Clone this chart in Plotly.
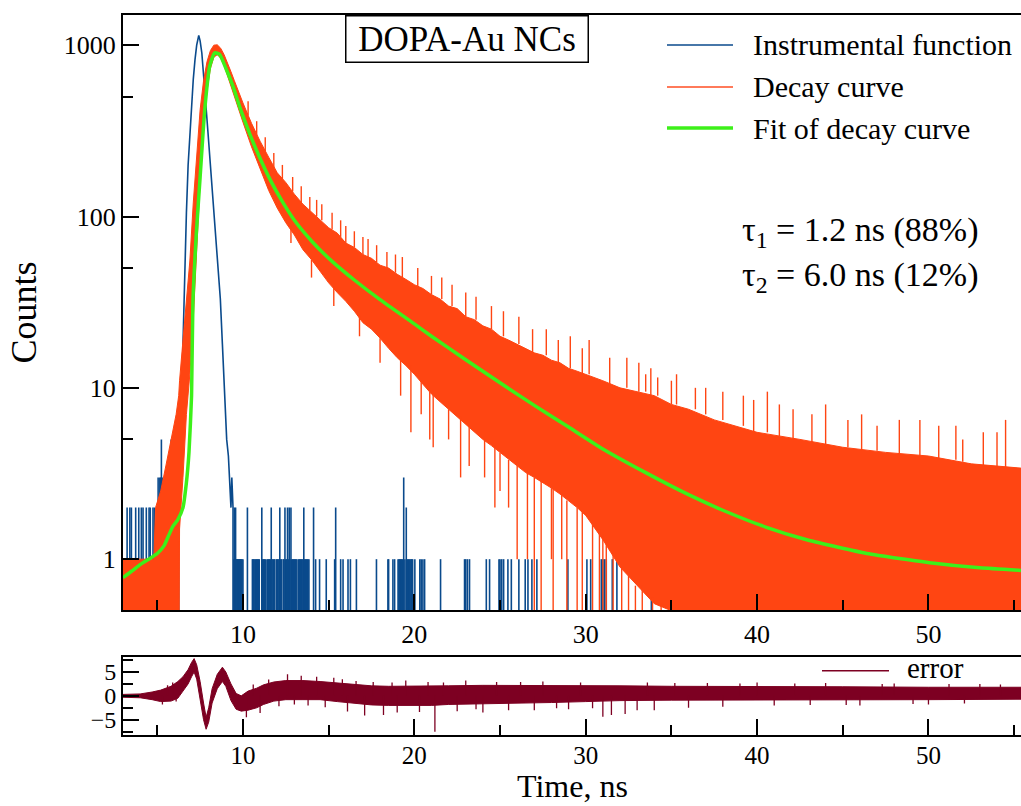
import plotly.graph_objects as go

# ---------------- data ----------------
# Instrument response function: main peak (time ns, counts)
irf_peak_t = [6.25, 6.3, 6.4, 6.5, 6.6, 6.7, 6.8, 6.9, 7.0, 7.1, 7.2, 7.3, 7.42, 7.5, 7.6, 7.67,
              7.8, 7.96, 8.1, 8.25, 8.4, 8.54, 8.68, 8.8, 8.93, 9.05, 9.15, 9.22, 9.3, 9.35, 9.42]
irf_peak_c = [2, 4, 7, 18, 51, 105, 200, 310, 460, 630, 820, 1000, 1140, 1060, 900, 754,
              500, 308, 200, 125, 75, 51, 33, 18, 8.5, 5, 4, 3, 2, 3, 2]
# isolated non-zero IRF channels (time ns, counts)
irf_spike_t = [3.24, 3.40, 3.49, 3.74, 3.92, 4.07, 4.17, 4.36, 4.52, 4.59, 4.75, 4.84, 5.05, 5.10, 5.15,
               5.20, 5.24, 5.30, 5.62, 5.75, 5.81, 5.87, 5.94, 6.05, 6.12,
               9.47, 9.50, 9.53, 9.57, 9.60, 9.63, 9.67, 9.70, 9.73, 9.77, 9.80, 9.83, 9.87, 9.90, 9.95, 10.00,
               10.26, 10.55, 10.60, 10.65, 10.70, 10.75, 10.80, 10.85, 10.90, 10.95,
               11.10, 11.15, 11.20, 11.25, 11.30, 11.40, 11.45, 11.50, 11.55, 11.60, 11.65, 11.70, 11.75,
               11.80, 11.85, 11.95, 12.00, 12.05, 12.10, 12.15, 12.20, 12.25, 12.35, 12.40, 12.45, 12.50,
               12.55, 12.60, 12.65, 12.70, 12.75, 12.80, 12.85, 12.90, 12.95, 13.00, 13.05, 13.10, 13.15,
               13.25, 13.30, 13.35, 13.40, 13.45, 13.50, 13.55, 13.60, 13.65, 13.70, 13.75, 13.80, 13.85,
               14.12, 14.24, 14.47, 14.86, 15.35, 15.41, 15.70, 15.84, 16.13, 16.27, 16.62, 17.79, 18.46,
               18.50, 18.75, 18.85, 19.05, 19.10, 19.15, 19.20, 19.25, 19.30, 19.38, 19.45, 19.53, 19.60,
               19.65, 19.70, 19.75, 19.80, 19.85, 19.90, 20.03, 20.32, 20.40, 20.50, 20.60, 21.53, 22.93,
               23.00, 23.10, 23.22, 24.20, 24.39, 24.94, 25.00, 25.10, 25.21, 25.46, 25.66, 26.10, 26.47,
               26.63, 26.86, 27.15, 28.96, 30.07, 30.29, 30.91, 31.00, 31.10, 31.20, 31.55, 31.82, 33.83,
               35.03, 35.77, 36.11, 36.94, 37.23, 37.27, 37.48, 37.52, 37.66, 37.77, 40.15, 40.25, 41.60,
               42.05, 42.58, 42.83, 43.35, 43.80, 52.30]
irf_spike_c = [2, 2, 2, 2, 2, 2, 2, 2, 2, 2, 2, 2, 3, 2, 3,
               3, 5, 3, 2, 2, 5, 2, 2, 3, 2,
               1, 2, 1, 2, 1, 1, 1, 1, 1, 1, 1, 1, 1, 1, 1, 1,
               2, 1, 1, 1, 1, 1, 1, 1, 1, 1,
               2, 1, 1, 1, 1, 1, 1, 1, 1, 1, 2, 1, 1,
               1, 1, 1, 1, 1, 1, 2, 1, 1, 1, 1, 2, 1,
               1, 2, 1, 2, 1, 2, 1, 1, 1, 1, 1, 1, 1,
               1, 1, 1, 1, 1, 1, 2, 1, 1, 1, 1, 1, 1,
               2, 1, 1, 1, 1, 2, 1, 1, 1, 1, 1, 1, 1,
               1, 1, 1, 1, 1, 1, 1, 1, 1, 3, 1, 2, 1,
               1, 1, 1, 1, 1, 1, 1, 1, 1, 1, 1, 1, 1,
               1, 1, 1, 1, 1, 1, 1, 1, 1, 1, 1, 1, 1,
               1, 1, 1, 1, 1, 1, 1, 1, 1, 1, 1, 1, 1,
               1, 1, 1, 1, 1, 1, 1, 1, 1, 1, 1, 1, 1,
               1, 1, 1, 1, 1, 1]

# Decay curve: band of the noisy counts (time ns, lower edge, upper edge)
decay_t = [3.0, 3.5, 3.9, 4.4, 4.8, 4.9, 5.2, 5.5, 5.8, 6.1, 6.25, 6.3, 6.5, 6.7, 6.9, 7.1, 7.3, 7.5,
           7.7, 7.9, 8.1, 8.3, 8.5, 8.7, 8.9, 9.1, 9.3, 9.5, 9.8, 10.0, 10.5, 11.0, 11.5, 12.0, 12.5,
           13.0, 13.5, 14.0, 14.5, 15.0, 15.5, 16.0, 16.5, 17.0, 17.5, 18.0, 18.5, 19.0, 19.5, 20.0,
           20.5, 21.0, 21.5, 22.0, 22.5, 23.0, 23.5, 24.0, 24.5, 25.0, 25.5, 26.0, 26.5, 27.0, 27.5,
           28.0, 28.5, 29.0, 29.5, 30.0, 31.0, 32.0, 33.0, 34.0, 35.0, 36.0, 37.5, 40.0, 42.5, 45.0,
           47.5, 50.0, 52.5, 55.4]
decay_low = [0.1, 0.1, 0.1, 0.1, 0.1, 0.1, 0.1, 0.1, 0.1, 0.1, 0.1, 1.5, 3.0, 7, 12, 25, 70, 160,
             330, 540, 730, 850, 880, 840, 760, 660, 580, 500, 410, 355, 255, 190, 142, 112, 92,
             78, 64, 56, 48, 41, 36, 32, 28, 24, 22, 19.5, 17, 15, 13.5, 12,
             10.5, 9.2, 8.3, 7.5, 6.8, 6.2, 5.6, 5.0, 4.6, 4.2, 3.8, 3.5, 3.2, 3.0, 2.8,
             2.6, 2.4, 2.2, 2.0, 1.8, 1.3, 0.9, 0.7, 0.55, 0.5, 0.1, 0.1, 0.1, 0.1, 0.1,
             0.1, 0.1, 0.1, 0.1]
decay_high = [1.0, 1.0, 1.0, 1.0, 1.0, 2.0, 2.5, 3.5, 5.0, 7.0, 9.0, 11, 19, 32, 55, 120, 240, 420,
              620, 800, 930, 1000, 1005, 960, 880, 790, 700, 620, 510, 460, 350, 275, 222, 180, 158,
              135, 118, 106, 95, 86, 80, 70, 66, 60, 57, 52, 50, 46, 43, 40,
              38, 35, 33, 30, 29, 26, 25, 23, 22, 20, 19, 18, 17, 16, 15.5,
              14.5, 14, 13, 12.5, 12, 11, 10, 9.5, 9, 8, 7.5, 6.5, 5.5, 5, 4.5,
              4.2, 4, 3.6, 3.4]
# single noisy channels poking out of the band (time ns, band edge, spike end)
decay_spike_t = [10.3, 10.8, 11.3, 11.8, 12.3, 12.9, 13.4, 13.9, 14.3, 14.6, 15.2, 15.7, 16.0, 16.5,
                 17.0, 17.3, 17.8, 18.4, 18.9, 19.3, 20.2, 21.0, 21.6, 22.2, 23.0, 23.6, 24.5, 25.2,
                 26.1, 26.9, 27.7, 28.4, 29.1, 29.8, 30.2, 31.4, 32.4, 33.1, 33.5, 33.8, 34.2, 35.0,
                 35.3, 36.4, 37.0, 38.0, 39.2, 39.8, 40.6, 41.3, 42.1, 43.2, 44.0, 45.3, 46.1, 47.0,
                 48.3, 49.5, 50.6, 51.6, 52.0, 53.2, 54.0, 54.5,
                 12.8, 14.0, 15.3, 16.8, 18.0, 19.2, 19.8, 20.4, 20.9, 21.1, 22.0, 22.7, 23.2, 24.1,
                 24.7, 25.0, 25.5, 26.0, 26.6, 27.0, 27.4, 28.0, 28.1, 28.6, 28.9, 29.5, 29.8, 30.4,
                 30.8, 31.0, 31.2, 31.6, 32.1, 32.5, 32.9, 33.3, 33.9, 34.4]
decay_spike_base = [390, 300, 240, 190, 165, 140, 120, 108, 100, 95, 84, 76, 70, 66,
                    60, 58, 54, 50, 47, 44, 39, 35, 33, 30, 26, 25, 22, 20,
                    18, 16, 15.5, 14, 13, 12, 12, 10.5, 10, 9.5, 9.5, 9, 9, 8,
                    8, 7.5, 7, 6.5, 6, 5.5, 5.5, 5.2, 5, 4.8, 4.5, 4.5, 4.3, 4.3,
                    4.1, 4, 3.9, 3.8, 3.7, 3.5, 3.5, 3.4,
                    88, 56, 39, 26, 19.5, 14.5, 13.5, 11, 9.5, 9.2, 7.5, 6.8, 6, 5,
                    4.6, 4.2, 3.8, 3.5, 3.2, 3, 2.9, 2.6, 2.6, 2.4, 2.2, 2.0, 1.9, 1.6,
                    1.5, 1.4, 1.3, 1.1, 0.9, 0.8, 0.7, 0.7, 0.6, 0.55]
decay_spike_end = [470, 360, 290, 235, 200, 170, 150, 130, 125, 118, 105, 95, 88, 82,
                   76, 74, 68, 62, 60, 58, 50, 45, 44, 40, 36, 34, 30, 28,
                   26, 22, 22, 19, 20, 17, 19, 15, 15, 14, 12, 13, 11.5, 11,
                   12, 10, 10, 9.5, 9, 8.5, 9.5, 8, 7.5, 7, 8, 6.5, 7, 6,
                   6.5, 6.5, 6, 6, 5, 5.5, 5.5, 6.5,
                   70, 44, 30, 20, 14, 9, 5.5, 7, 5, 4.5, 5, 3, 3.5, 3,
                   2, 2.5, 2, 1.0, 1, 0.05, 0.05, 1, 0.05, 1, 0.05, 0.05, 0.05, 0.05,
                   0.05, 0.05, 0.05, 0.05, 0.05, 0.05, 0.05, 0.05, 0.05, 0.05]

# Fit of decay curve (time ns, counts)
fit_t = [3.0, 3.5, 4.0, 4.5, 5.0, 5.4, 5.7, 5.9, 6.2, 6.5, 6.7, 6.85, 7.0, 7.08, 7.28, 7.5, 7.77,
         8.06, 8.35, 8.64, 9.03, 9.42, 9.81, 10.4, 10.95, 11.6, 12.3, 13.0, 14.0, 15.2, 16.5, 18.0,
         20.0, 21.0, 23.0, 25.0, 27.0, 29.0, 31.0, 33.5, 36.0, 38.0, 40.5, 43.0, 46.4, 50.2, 53.0, 55.4]
fit_c = [0.78, 0.85, 0.93, 1.0, 1.08, 1.2, 1.4, 1.55, 1.7, 2.0, 2.8, 4.2, 9.0, 32, 80, 170, 421,
         754, 902, 883, 721, 575, 436, 303, 224, 163, 122, 95, 72, 54.7, 42.6, 32.7,
         23.6, 20.0, 14.6, 10.7, 7.9, 5.9, 4.4, 3.2, 2.38, 1.93, 1.54, 1.29, 1.08, 0.95, 0.89, 0.86]

# Residuals (time ns, lower edge, upper edge)
res_t = [3.0, 4.0, 4.7, 5.2, 5.8, 6.2, 6.5, 6.8, 7.0, 7.15, 7.3, 7.5, 7.7, 7.85, 8.0, 8.2, 8.5, 8.8,
         9.0, 9.3, 9.6, 9.9, 10.3, 10.8, 11.2, 11.8, 12.5, 13.5, 14.5, 15.5, 16.5, 17.5, 18.5, 20.0,
         21.0, 22.0, 24.0, 26.0, 28.0, 30.0, 32.0, 35.0, 40.0, 45.0, 50.0, 55.4]
res_low = [-0.3, -0.4, -0.8, -1.2, -1.1, -0.5, 1.0, 2.5, 4.0, 5.0, 3.5, -1.0, -5.0, -7.0, -5.5, -1.5,
           1.5, 3.0, 2.0, -1.0, -2.8, -3.2, -3.0, -2.5, -1.8, -1.1, -0.8, -0.8, -0.8, -1.2, -1.6, -1.9,
           -2.0, -2.0, -2.0, -1.8, -1.7, -1.6, -1.4, -1.2, -1.0, -0.9, -0.9, -0.9, -0.8, -0.7]
res_high = [0.3, 0.4, 0.8, 1.2, 2.0, 3.0, 4.0, 5.5, 7.0, 7.8, 6.5, 3.0, -1.5, -4.5, -2.5, 1.5,
            4.5, 6.0, 5.0, 2.5, 0.5, 0.0, 1.0, 1.6, 2.3, 2.9, 3.2, 3.2, 3.0, 2.7, 2.3, 2.1,
            2.0, 2.0, 2.0, 2.1, 2.2, 2.2, 2.1, 2.1, 2.1, 2.0, 2.0, 1.9, 1.8, 1.8]
# isolated residual spikes (time ns, value)
res_spike_t = [5.3, 5.6, 5.9, 6.1, 10.2, 10.6, 11.0, 11.5, 12.1, 12.6, 13.0, 13.4, 13.8, 14.3, 14.8,
               15.3, 15.8, 16.1, 16.6, 17.1, 17.6, 18.2, 18.7, 19.0, 19.5, 20.3, 20.8, 21.2, 21.7,
               22.5, 23.0, 23.6, 24.0, 24.8, 25.5, 26.2, 27.0, 27.5, 28.3, 29.0, 29.7, 30.4, 31.0,
               31.5, 32.3, 33.0, 33.6, 34.0, 35.2, 36.0, 37.1, 38.0, 39.0, 40.0, 41.0, 42.2, 43.1,
               44.0, 45.2, 46.0, 47.3, 48.0, 49.1, 50.0, 51.2, 52.1, 53.0, 54.2]
res_spike_v = [-1.8, 2.2, 2.8, -1.2, -4.5, 2.4, -3.6, 3.4, -2.2, 4.5, -1.8, 4.2, -2.0, 4.0, -2.4,
               3.8, 3.5, -3.3, 3.1, -4.1, 2.9, -4.0, 2.8, -3.5, 3.2, -3.4, 2.9, -7.5, 2.8,
               -3.2, 3.2, -2.8, -3.5, 2.9, -3.0, 2.9, -3.0, 3.0, -2.6, -2.8, 2.8, -2.6, -4.4,
               -4.0, -3.8, -3.0, 2.8, -3.0, 2.7, -2.5, 2.7, -2.3, 2.6, 2.8, -2.0, 2.6, -1.9,
               2.7, -1.9, -2.0, 2.5, 2.6, -1.7, -1.8, 2.5, -1.6, 2.5, 2.4]

x_ticks = [10, 20, 30, 40, 50]
x_minor = [5, 15, 25, 35, 45, 55]
y_ticks = [1, 10, 100, 1000]
y_minor = [5, 50, 500]
r_ticks = [-5, 0, 5]
r_minor = [-7.5, -2.5, 2.5, 7.5]

BLUE = '#0A4A8C'
ORANGE = '#FF4512'
GREEN = '#3DF01A'
WINE = '#7D0022'
FONT = 'Liberation Serif'
FLOOR = 0.05

# ---------------- figure ----------------
fig = go.Figure()

# IRF spikes (drop to zero counts between isolated channels)
sx, sy = [], []
for t, c in zip(irf_spike_t, irf_spike_c):
    sx += [t, t, None]
    sy += [FLOOR, c, None]
fig.add_trace(go.Scatter(x=sx, y=sy, mode='lines', line=dict(color=BLUE, width=1.6),
                         showlegend=False, hoverinfo='skip', xaxis='x', yaxis='y'))
fig.add_trace(go.Scatter(x=[irf_peak_t[0]] + irf_peak_t + [irf_peak_t[-1]],
                         y=[FLOOR] + irf_peak_c + [FLOOR], mode='lines',
                         line=dict(color=BLUE, width=1.6), name='Instrumental function',
                         showlegend=False, xaxis='x', yaxis='y'))

# Decay curve band
fig.add_trace(go.Scatter(x=decay_t, y=decay_low, mode='lines', line=dict(color=ORANGE, width=1),
                         showlegend=False, hoverinfo='skip', xaxis='x', yaxis='y'))
fig.add_trace(go.Scatter(x=decay_t, y=decay_high, mode='lines', line=dict(color=ORANGE, width=1),
                         fill='tonexty', fillcolor=ORANGE, name='Decay curve',
                         showlegend=False, xaxis='x', yaxis='y'))
dx, dy = [], []
for t, b, e in zip(decay_spike_t, decay_spike_base, decay_spike_end):
    dx += [t, t, None]
    dy += [b, e, None]
fig.add_trace(go.Scatter(x=dx, y=dy, mode='lines', line=dict(color=ORANGE, width=1.4),
                         showlegend=False, hoverinfo='skip', xaxis='x', yaxis='y'))

# Fit
fig.add_trace(go.Scatter(x=fit_t, y=fit_c, mode='lines',
                         line=dict(color=GREEN, width=3.5, shape='spline', smoothing=0.5),
                         name='Fit of decay curve', showlegend=False, xaxis='x', yaxis='y'))

# Residuals
fig.add_trace(go.Scatter(x=res_t, y=res_low, mode='lines', line=dict(color=WINE, width=1),
                         showlegend=False, hoverinfo='skip', xaxis='x2', yaxis='y2'))
fig.add_trace(go.Scatter(x=res_t, y=res_high, mode='lines', line=dict(color=WINE, width=1),
                         fill='tonexty', fillcolor=WINE, name='error', showlegend=False,
                         xaxis='x2', yaxis='y2'))
rx, ry = [], []
for t, v in zip(res_spike_t, res_spike_v):
    rx += [t, t, None]
    ry += [0, v, None]
fig.add_trace(go.Scatter(x=rx, y=ry, mode='lines', line=dict(color=WINE, width=1.3),
                         showlegend=False, hoverinfo='skip', xaxis='x2', yaxis='y2'))

# ---------------- layout ----------------
W, H = 1021, 806
ML, MR, MT, MB = 123, 0, 15, 71
PW, PH = W - ML - MR, H - MT - MB


def px(xp):
    return (xp - ML) / PW


def py(yp):
    return (H - MB - yp) / PH


axis_common = dict(showgrid=False, zeroline=False, showline=True, linecolor='black', linewidth=2,
                   ticks='inside', tickcolor='black', tickwidth=2, ticklen=16,
                   tickfont=dict(family=FONT, size=26, color='black'))

fig.update_layout(
    width=W, height=H, margin=dict(l=ML, r=MR, t=MT, b=MB),
    paper_bgcolor='white', plot_bgcolor='white', showlegend=False,
    xaxis=dict(domain=[0, 1], range=[3, 55.4], anchor='y', mirror=True,
               tickvals=x_ticks, ticktext=[str(v) for v in x_ticks],
               minor=dict(tickvals=x_minor, ticks='inside', ticklen=10, tickwidth=2, tickcolor='black'),
               **axis_common),
    yaxis=dict(domain=[py(610), 1], type='log', range=[-0.2967, 3.1761], anchor='x',
               tickvals=y_ticks, ticktext=[str(v) for v in y_ticks],
               minor=dict(tickvals=y_minor, ticks='inside', ticklen=10, tickwidth=2, tickcolor='black'),
               title=dict(text='Counts', font=dict(family=FONT, size=36, color='black'), standoff=16),
               **axis_common),
    xaxis2=dict(domain=[0, 1], range=[3, 55.4], anchor='y2', mirror=True,
                tickvals=x_ticks, ticktext=[str(v) for v in x_ticks], ticklabelstandoff=-3,
                minor=dict(tickvals=x_minor, ticks='inside', ticklen=10, tickwidth=2, tickcolor='black'),
                **{**axis_common, 'tickfont': dict(family=FONT, size=25, color='black')}),
    yaxis2=dict(domain=[0, py(656.7)], range=[-8.2, 8.2], anchor='x2',
                tickvals=r_ticks, ticktext=['\u22125', '0', '5'],
                minor=dict(tickvals=r_minor, ticks='inside', ticklen=10, tickwidth=2, tickcolor='black'),
                **{**axis_common, 'tickfont': dict(family=FONT, size=24, color='black')}),
)

ann = []
# x-axis title
ann.append(dict(text='Time, ns', x=px(572), y=0, yshift=-(MB - 0.5), xref='paper', yref='paper',
                showarrow=False, font=dict(family=FONT, size=32, color='black'),
                xanchor='center', yanchor='bottom'))
# sample box
ann.append(dict(text='\u00a0DOPA-Au NCs\u00a0', x=px(467), y=py(39.5), xref='paper', yref='paper',
                showarrow=False, font=dict(family=FONT, size=35, color='black'), xanchor='center',
                yanchor='middle', bordercolor='black', borderwidth=1.5, borderpad=3, bgcolor='white'))
# lifetimes
ann.append(dict(text='\u03c4<sub>1</sub> = 1.2 ns (88%)', x=px(740), y=py(232), xref='paper', yref='paper',
                showarrow=False, font=dict(family=FONT, size=34, color='black'), xanchor='left', yanchor='middle'))
ann.append(dict(text='\u03c4<sub>2</sub> = 6.0 ns (12%)', x=px(740), y=py(277), xref='paper', yref='paper',
                showarrow=False, font=dict(family=FONT, size=34, color='black'), xanchor='left', yanchor='middle'))

# legend (drawn)
legend_items = [('Instrumental function', BLUE, 1.5, 45), ('Decay curve', '#FF7A5A', 2, 87),
                ('Fit of decay curve', GREEN, 3.5, 128)]
shapes = []
for label, col, w, yy in legend_items:
    shapes.append(dict(type='line', xref='paper', yref='paper', x0=px(667), x1=px(733), y0=py(yy), y1=py(yy),
                       line=dict(color=col, width=w)))
    ann.append(dict(text=label, x=px(751), y=py(yy), xref='paper', yref='paper', showarrow=False,
                    font=dict(family=FONT, size=30, color='black'), xanchor='left', yanchor='middle'))
shapes.append(dict(type='line', xref='paper', yref='paper', x0=px(822), x1=px(889), y0=py(670.7), y1=py(670.7),
                   line=dict(color=WINE, width=1.5)))
ann.append(dict(text='error', x=px(905), y=py(668), xref='paper', yref='paper', showarrow=False,
                font=dict(family=FONT, size=29, color='black'), xanchor='left', yanchor='middle'))

fig.update_layout(annotations=ann, shapes=shapes)
fig.write_html('out.html')
